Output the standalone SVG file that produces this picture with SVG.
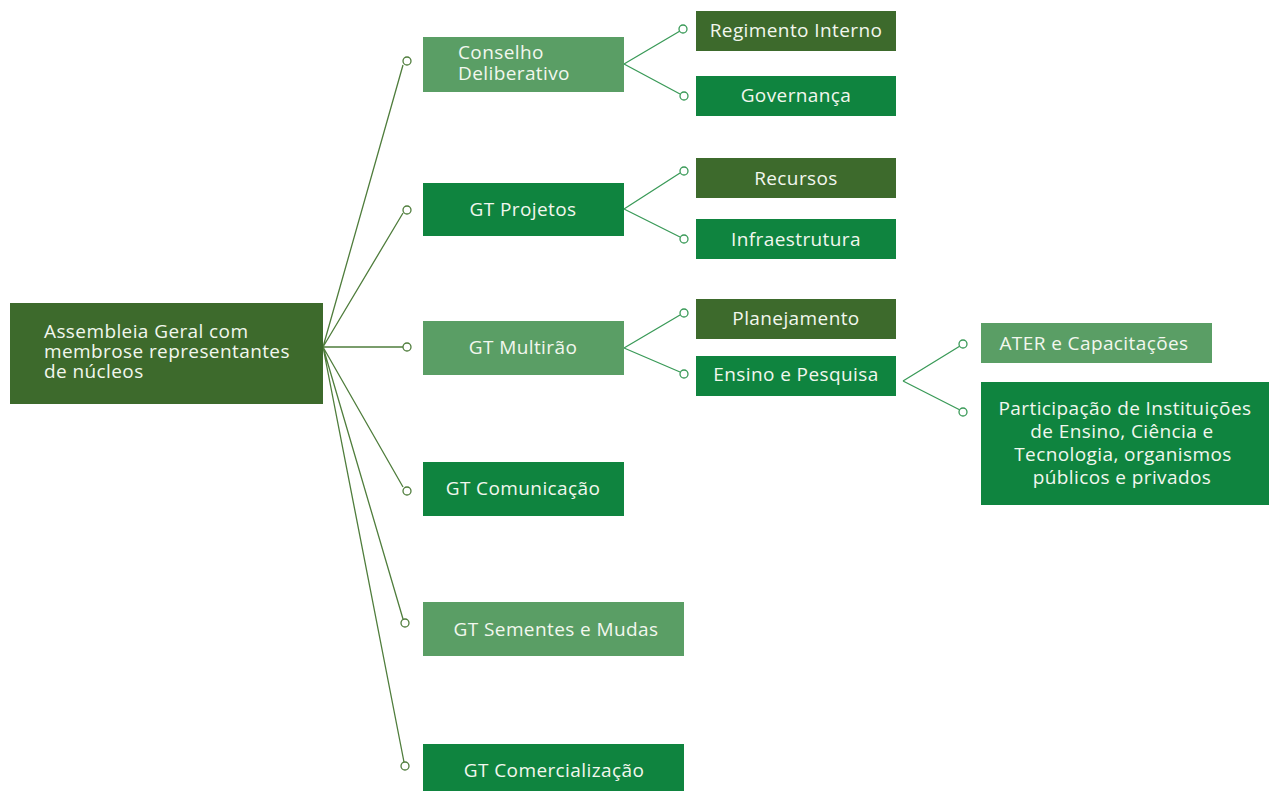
<svg xmlns="http://www.w3.org/2000/svg" width="1273" height="791" viewBox="0 0 1273 791">
<style>
.dark{fill:#3d6a2c}
.mid{fill:#0f843f}
.light{fill:#5a9e65}
text{font-family:"Open Sans","Noto Sans",sans-serif;font-size:19px;letter-spacing:0.4px;fill:#f2f7ee}
.c{text-anchor:middle}
.main{stroke:#4f7d3c;stroke-width:1.3;fill:none}
.sub{stroke:#3a9a58;stroke-width:1.3;fill:none}
.dot{fill:#fff;stroke-width:1.3}
</style>
<rect width="1273" height="791" fill="#fff"/>
<g id="connectors">
<g class="main">
<path d="M323 347L403 65M323 347L403 213M323 347L403 347M323 347L403 487M323 347L403 619M323 347L404 762"/>
</g>
<circle class="dot" cx="407" cy="61" r="4" stroke="#4f7d3c"/>
<circle class="dot" cx="407" cy="210" r="4" stroke="#4f7d3c"/>
<circle class="dot" cx="407" cy="347" r="4" stroke="#4f7d3c"/>
<circle class="dot" cx="407" cy="491" r="4" stroke="#4f7d3c"/>
<circle class="dot" cx="405" cy="623" r="4" stroke="#4f7d3c"/>
<circle class="dot" cx="405" cy="766" r="4" stroke="#4f7d3c"/>
<g class="sub">
<path d="M624 64L680 31M624 64L680 94M624 209L680 173M624 209L680 237M624 348L680 315M624 348L680 372M903 381L960 346M903 381L960 410"/>
</g>
<circle class="dot" cx="683" cy="29" r="4" stroke="#3a9a58"/>
<circle class="dot" cx="684" cy="96" r="4" stroke="#3a9a58"/>
<circle class="dot" cx="684" cy="171" r="4" stroke="#3a9a58"/>
<circle class="dot" cx="684" cy="239" r="4" stroke="#3a9a58"/>
<circle class="dot" cx="684" cy="313" r="4" stroke="#3a9a58"/>
<circle class="dot" cx="684" cy="374" r="4" stroke="#3a9a58"/>
<circle class="dot" cx="963" cy="344" r="4" stroke="#3a9a58"/>
<circle class="dot" cx="963" cy="412" r="4" stroke="#3a9a58"/>
</g>
<g id="root"><rect class="dark" x="10" y="303" width="313" height="101"/>
<text x="44" y="338">Assembleia Geral com</text><text x="44" y="358">membrose representantes</text><text x="44" y="378">de núcleos</text></g>
<g id="conselho"><rect class="light" x="423" y="37" width="201" height="55"/>
<text x="458" y="59">Conselho</text><text x="458" y="80">Deliberativo</text></g>
<g id="regimento"><rect class="dark" x="696" y="11" width="200" height="40"/><text class="c" x="796" y="37">Regimento Interno</text></g>
<g id="governanca"><rect class="mid" x="696" y="76" width="200" height="40"/><text class="c" x="796" y="102">Governança</text></g>
<g id="projetos"><rect class="mid" x="423" y="183" width="201" height="53"/><text class="c" x="523" y="216">GT Projetos</text></g>
<g id="recursos"><rect class="dark" x="696" y="158" width="200" height="40"/><text class="c" x="796" y="185">Recursos</text></g>
<g id="infra"><rect class="mid" x="696" y="219" width="200" height="40"/><text class="c" x="796" y="246">Infraestrutura</text></g>
<g id="multirao"><rect class="light" x="423" y="321" width="201" height="54"/><text class="c" x="523" y="354">GT Multirão</text></g>
<g id="planejamento"><rect class="dark" x="696" y="299" width="200" height="40"/><text class="c" x="796" y="325">Planejamento</text></g>
<g id="ensino"><rect class="mid" x="696" y="356" width="200" height="40"/><text class="c" x="796" y="381">Ensino e Pesquisa</text></g>
<g id="ater"><rect class="light" x="981" y="323" width="231" height="40"/><text class="c" x="1094" y="350">ATER e Capacitações</text></g>
<g id="participacao"><rect class="mid" x="981" y="382" width="288" height="123"/>
<text class="c" x="1125" y="415">Participação de Instituições</text><text class="c" x="1122" y="438">de Ensino, Ciência e</text><text class="c" x="1123" y="461">Tecnologia, organismos</text><text class="c" x="1122" y="484">públicos e privados</text></g>
<g id="comunicacao"><rect class="mid" x="423" y="462" width="201" height="54"/><text class="c" x="523" y="495">GT Comunicação</text></g>
<g id="sementes"><rect class="light" x="423" y="602" width="261" height="54"/><text class="c" x="556" y="636">GT Sementes e Mudas</text></g>
<g id="comercializacao"><rect class="mid" x="423" y="744" width="261" height="50"/><text class="c" x="554" y="777">GT Comercialização</text></g>
</svg>
